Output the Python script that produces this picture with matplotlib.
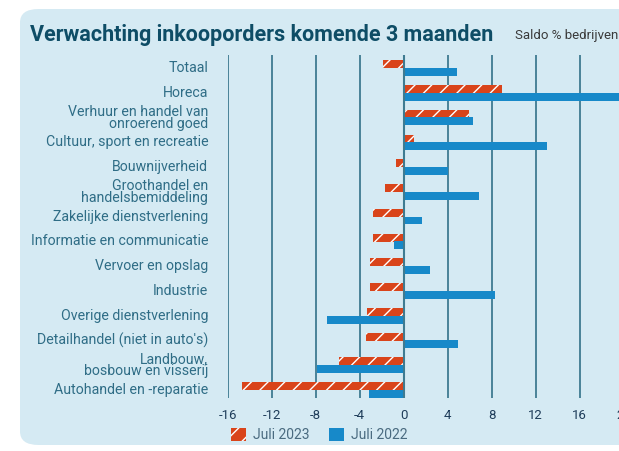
import matplotlib.pyplot as plt
from matplotlib.patches import FancyBboxPatch, Patch
import numpy as np

plt.rcParams['font.family'] = ['Roboto', 'DejaVu Sans']
plt.rcParams['hatch.color'] = 'white'
plt.rcParams['hatch.linewidth'] = 1.0

# Data (saldo % bedrijven)
categories = [
    "Totaal",
    "Horeca",
    "Verhuur en handel van\nonroerend goed",
    "Cultuur, sport en recreatie",
    "Bouwnijverheid",
    "Groothandel en\nhandelsbemiddeling",
    "Zakelijke dienstverlening",
    "Informatie en communicatie",
    "Vervoer en opslag",
    "Industrie",
    "Overige dienstverlening",
    "Detailhandel (niet in auto's)",
    "Landbouw,\nbosbouw en visserij",
    "Autohandel en -reparatie",
]
juli_2023 = [-1.9, 8.9, 5.9, 0.9, -0.7, -1.7, -2.8, -2.8, -3.1, -3.1, -3.3, -3.4, -5.9, -14.7]
juli_2022 = [4.8, 21.0, 6.3, 13.0, 4.0, 6.8, 1.7, -0.9, 2.4, 8.3, -7.0, 4.9, -7.9, -3.2]
x_ticks = [-16, -12, -8, -4, 0, 4, 8, 12, 16, 20]

red = '#d9441a'
blue = '#1789c9'
panel = '#d5eaf3'
grid_col = '#3f7b91'
label_col = '#2f6d86'

fig = plt.figure(figsize=(6.19, 4.51), dpi=100)

# light blue rounded panel behind everything
bg = FancyBboxPatch((20 / 619, 6 / 451), 640 / 619, 436 / 451,
                    boxstyle="round,pad=0,rounding_size=0.03",
                    transform=fig.transFigure, facecolor=panel,
                    edgecolor='none', zorder=-5)
fig.patches.append(bg)

ax = fig.add_axes([227.7 / 619, 53 / 451, 396 / 619, 343 / 451])
ax.set_zorder(2)
ax.set_facecolor('none')

y = np.arange(len(categories))
h = 0.32
ax.barh(y - 0.155, juli_2023, height=h, color=red, hatch='//',
        edgecolor='white', linewidth=0, zorder=3, label='Juli 2023')
ax.barh(y + 0.155, juli_2022, height=h, color=blue, linewidth=0,
        zorder=3, label='Juli 2022')

ax.set_xlim(-16, 20)
ax.set_ylim(13.32, -0.525)
ax.set_xticks(x_ticks)
ax.set_xticklabels([str(t) for t in x_ticks], color='#1f3d5a', fontsize=9.5)
ax.set_yticks(y)
ax.set_yticklabels(categories, color=label_col, fontsize=10.2, linespacing=0.82,
                   va='center')
ax.tick_params(length=0)
ax.tick_params(axis='x', pad=8)
ax.tick_params(axis='y', pad=14)

for t in x_ticks:
    ax.axvline(t, color=grid_col, linewidth=1.5 if t == 0 else 1.3, zorder=2 if t else 4)
for s in ax.spines.values():
    s.set_visible(False)

fig.text(30 / 619, 1 - 35 / 451, "Verwachting inkooporders komende 3 maanden",
         fontsize=15.5, fontweight='bold', color='#0e4d66', va='center')
fig.text(515 / 619, 1 - 35 / 451, "Saldo % bedrijven",
         fontsize=9.5, color='#3a3a3a', va='center')

handles = [Patch(facecolor=red, hatch='//', edgecolor='white', linewidth=0),
           Patch(facecolor=blue, linewidth=0)]
fig.legend(handles, ['Juli 2023', 'Juli 2022'], loc='center left',
           bbox_to_anchor=(218 / 619, 1 - 435 / 451), ncol=2, frameon=False,
           fontsize=10, labelcolor='#4a6b80',
           handlelength=1.1, handleheight=1.1,
           handletextpad=0.5, columnspacing=1.4)

fig.savefig('out.png', dpi=100)
